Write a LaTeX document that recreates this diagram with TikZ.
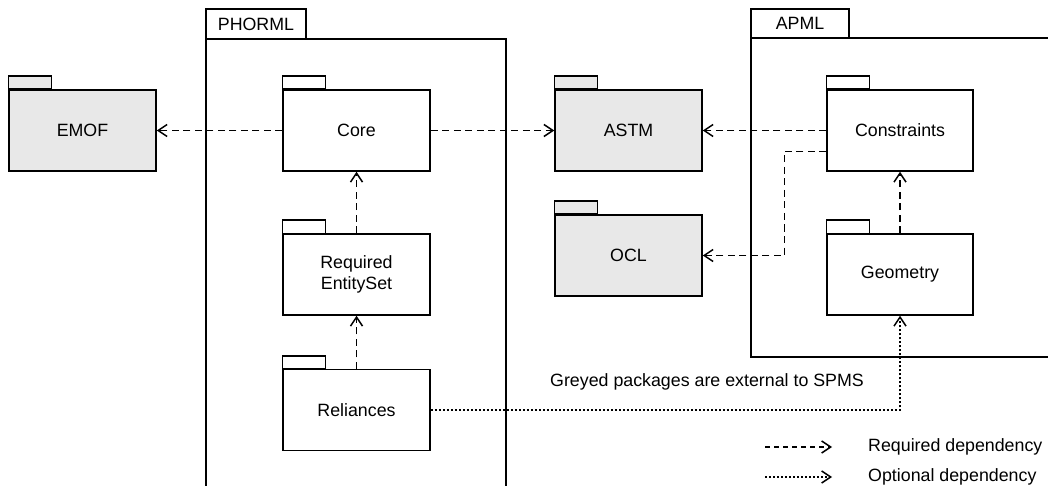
\documentclass[tikz,border=0pt]{standalone}
\usepackage{fontspec}
\setmainfont{Liberation Sans}
\usetikzlibrary{arrows.meta}
\begin{document}
\begin{tikzpicture}[x=1pt,y=-1pt,
  font=\fontsize{17.8}{21}\selectfont,
  frame/.style={line width=1.5pt},
  pkg/.style={draw, line width=1.5pt, minimum width=147pt, minimum height=81pt, inner sep=0pt, align=center, fill=white},
  ext/.style={pkg, fill=black!9},
  req/.style={line width=1.5pt, dash pattern=on 7pt off 4.5pt, -{Straight Barb[length=9pt,width=12pt]}},
  opt/.style={line width=1.5pt, dash pattern=on 2pt off 2pt, -{Straight Barb[length=9pt,width=12pt]}},
  lbl/.style={anchor=west, inner sep=0pt}]
\useasboundingbox (0,0) rectangle (1048,486);
\clip (0,0) rectangle (1048,486);
% frames
\draw[frame] (206,9) rectangle (306,39);
\draw[frame] (206,39) rectangle (506,520);
\node (phorml) at (256,24) {PHORML};
\draw[frame] (751,9) rectangle (849,38);
\draw[frame] (751,38) rectangle (1080,357);
\node (apml) at (800,23.5) {APML};
% packages
\node[ext] (emof) at (82.5,130.5) {EMOF};
\node[pkg] (core) at (356.5,130.5) {Core};
\node[ext] (astm) at (628.5,130.5) {ASTM};
\node[pkg, minimum width=146pt] (cons) at (900,130.5) {Constraints};
\node[ext] (ocl) at (628.5,255.5) {OCL};
\node[pkg, minimum width=146pt] (geom) at (900,274.5) {Geometry};
\node[pkg] (res) at (356.5,274.5) {Required\\EntitySet};
\node[pkg] (rel) at (356.5,410) {Reliances};
% tabs
\foreach \n/\c in {emof/black!9, core/white, astm/black!9, cons/white, ocl/black!9, geom/white, res/white, rel/white}
  \draw[line width=1.5pt, fill=\c] (\n.north west) rectangle ++(43,-13);
% dependencies
\draw[req] (core.west) -- (emof.east);
\draw[req] (core.east) -- (astm.west);
\draw[req] (cons.west) -- (astm.east);
\draw[req] ([yshift=-21pt]cons.west) -- ++(-42,0) |- (ocl.east);
\draw[req] (geom.north) -- (cons.south);
\draw[req] (res.north) -- (core.south);
\draw[req] (rel.north) -- (res.south);
\draw[opt] (rel.east) -| (geom.south);
% note and legend
\node[lbl] (note) at (550,382) {Greyed packages are external to SPMS};
\coordinate (l1a) at (765,447);
\coordinate (l1b) at (832,447);
\coordinate (l2a) at (765,477);
\coordinate (l2b) at (832,477);
\draw[req, dash pattern=on 5pt off 4pt] (l1a) -- (l1b);
\draw[opt] (l2a) -- (l2b);
\node[lbl] (reqtxt) at (868,447) {Required dependency};
\node[lbl] (opttxt) at (868,477) {Optional dependency};
\end{tikzpicture}
\end{document}
